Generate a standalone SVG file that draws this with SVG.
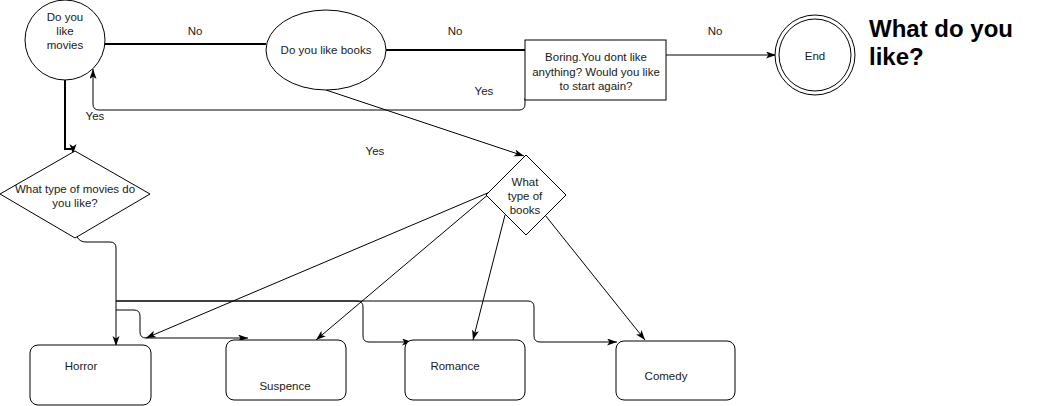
<svg xmlns="http://www.w3.org/2000/svg" width="1056" height="406" viewBox="0 0 1056 406">
<style>
.s{fill:#fff;stroke:#000;stroke-width:1}
.t{font-family:"Liberation Sans",Arial,sans-serif;font-size:11.5px;fill:#1a1a1a;text-anchor:middle}
.c{fill:none;stroke:#000;stroke-width:1}
.k{fill:none;stroke:#000;stroke-width:2}
.h{font-family:"Liberation Sans",Arial,sans-serif;font-size:24px;font-weight:bold;fill:#000}
</style>
<defs>
<marker id="a" markerUnits="userSpaceOnUse" markerWidth="11" markerHeight="8" refX="10" refY="3.5" orient="auto">
<path d="M0,0 L10,3.5 L0,7 L2.5,3.5 z" fill="#000"/>
</marker>
</defs>
<rect width="1056" height="406" fill="#fff"/>
<g id="connectors">
<path class="k" d="M105,44 L266,44"/>
<path class="k" d="M386,50 L525,50"/>
<path class="c" d="M666,55 L776,55" marker-end="url(#a)"/>
<path class="c" d="M525,98 L525,104 Q525,110 519,110 L99,110 Q93,110 93,104 L93,69" marker-end="url(#a)"/>
<path class="k" d="M65,80 L65,149 L73,149"/>
<path class="c" d="M73,149 L73,154" marker-end="url(#a)"/>
<path class="c" d="M77,237 Q80,242 86,242 L110,242 Q116,242 116,248 L116,346" marker-end="url(#a)"/>
<path class="c" d="M116,310 L134,310 Q140,310 140,316 L140,332 Q140,338 146,338 L248,338" marker-end="url(#a)"/>
<path class="c" d="M116,301 L357,301 Q363,301 363,307 L363,336 Q363,342 369,342 L412,342" marker-end="url(#a)"/>
<path class="c" d="M116,301 L528,301 Q534,301 534,307 L534,336 Q534,342 540,342 L617,342" marker-end="url(#a)"/>
<path class="c" d="M326,90 L524,156" marker-end="url(#a)"/>
<path class="c" d="M490,192 L146,338" marker-end="url(#a)"/>
<path class="c" d="M490,193 L316,340" marker-end="url(#a)"/>
<path class="c" d="M505,215 L473,340" marker-end="url(#a)"/>
<path class="c" d="M545,215 L645,340" marker-end="url(#a)"/>
<text class="t" x="195" y="35">No</text>
<text class="t" x="455" y="35">No</text>
<text class="t" x="715" y="35">No</text>
<text class="t" x="484" y="95">Yes</text>
<text class="t" x="95" y="120">Yes</text>
<text class="t" x="375" y="155">Yes</text>
</g>
<g id="movies">
<circle class="s" cx="65" cy="40" r="40"/>
<text class="t" x="65" y="21">Do you</text>
<text class="t" x="65" y="35">like</text>
<text class="t" x="65" y="49">movies</text>
</g>
<g id="books">
<ellipse class="s" cx="326" cy="50" rx="60" ry="40"/>
<text class="t" x="326" y="54">Do you like books</text>
</g>
<g id="boring">
<rect class="s" x="525" y="40" width="141" height="60"/>
<text class="t" x="596" y="61">Boring.You dont like</text>
<text class="t" x="596" y="76">anything? Would you like</text>
<text class="t" x="596" y="90">to start again?</text>
</g>
<g id="end">
<circle class="s" cx="815" cy="55" r="40"/>
<circle class="s" cx="815" cy="55" r="36"/>
<text class="t" x="815" y="60">End</text>
</g>
<g id="title">
<text class="h" x="869" y="37">What do you</text>
<text class="h" x="869" y="65">like?</text>
</g>
<g id="movietype">
<path class="s" d="M75,151 L150,194 L75,238 L0,194 Z"/>
<text class="t" x="75" y="193">What type of movies do</text>
<text class="t" x="75" y="207">you like?</text>
</g>
<g id="booktype">
<path class="s" d="M526,155 L566,195 L526,235 L486,195 Z"/>
<text class="t" x="525" y="186">What</text>
<text class="t" x="525" y="200">type of</text>
<text class="t" x="525" y="214">books</text>
</g>
<g id="horror">
<rect class="s" x="30" y="345" width="121" height="60" rx="8"/>
<text class="t" x="81" y="370">Horror</text>
</g>
<g id="suspence">
<rect class="s" x="226" y="340" width="120" height="60" rx="8"/>
<text class="t" x="285" y="390">Suspence</text>
</g>
<g id="romance">
<rect class="s" x="405" y="340" width="120" height="60" rx="8"/>
<text class="t" x="455" y="370">Romance</text>
</g>
<g id="comedy">
<rect class="s" x="616" y="341" width="119" height="59" rx="8"/>
<text class="t" x="666" y="380">Comedy</text>
</g>
</svg>
